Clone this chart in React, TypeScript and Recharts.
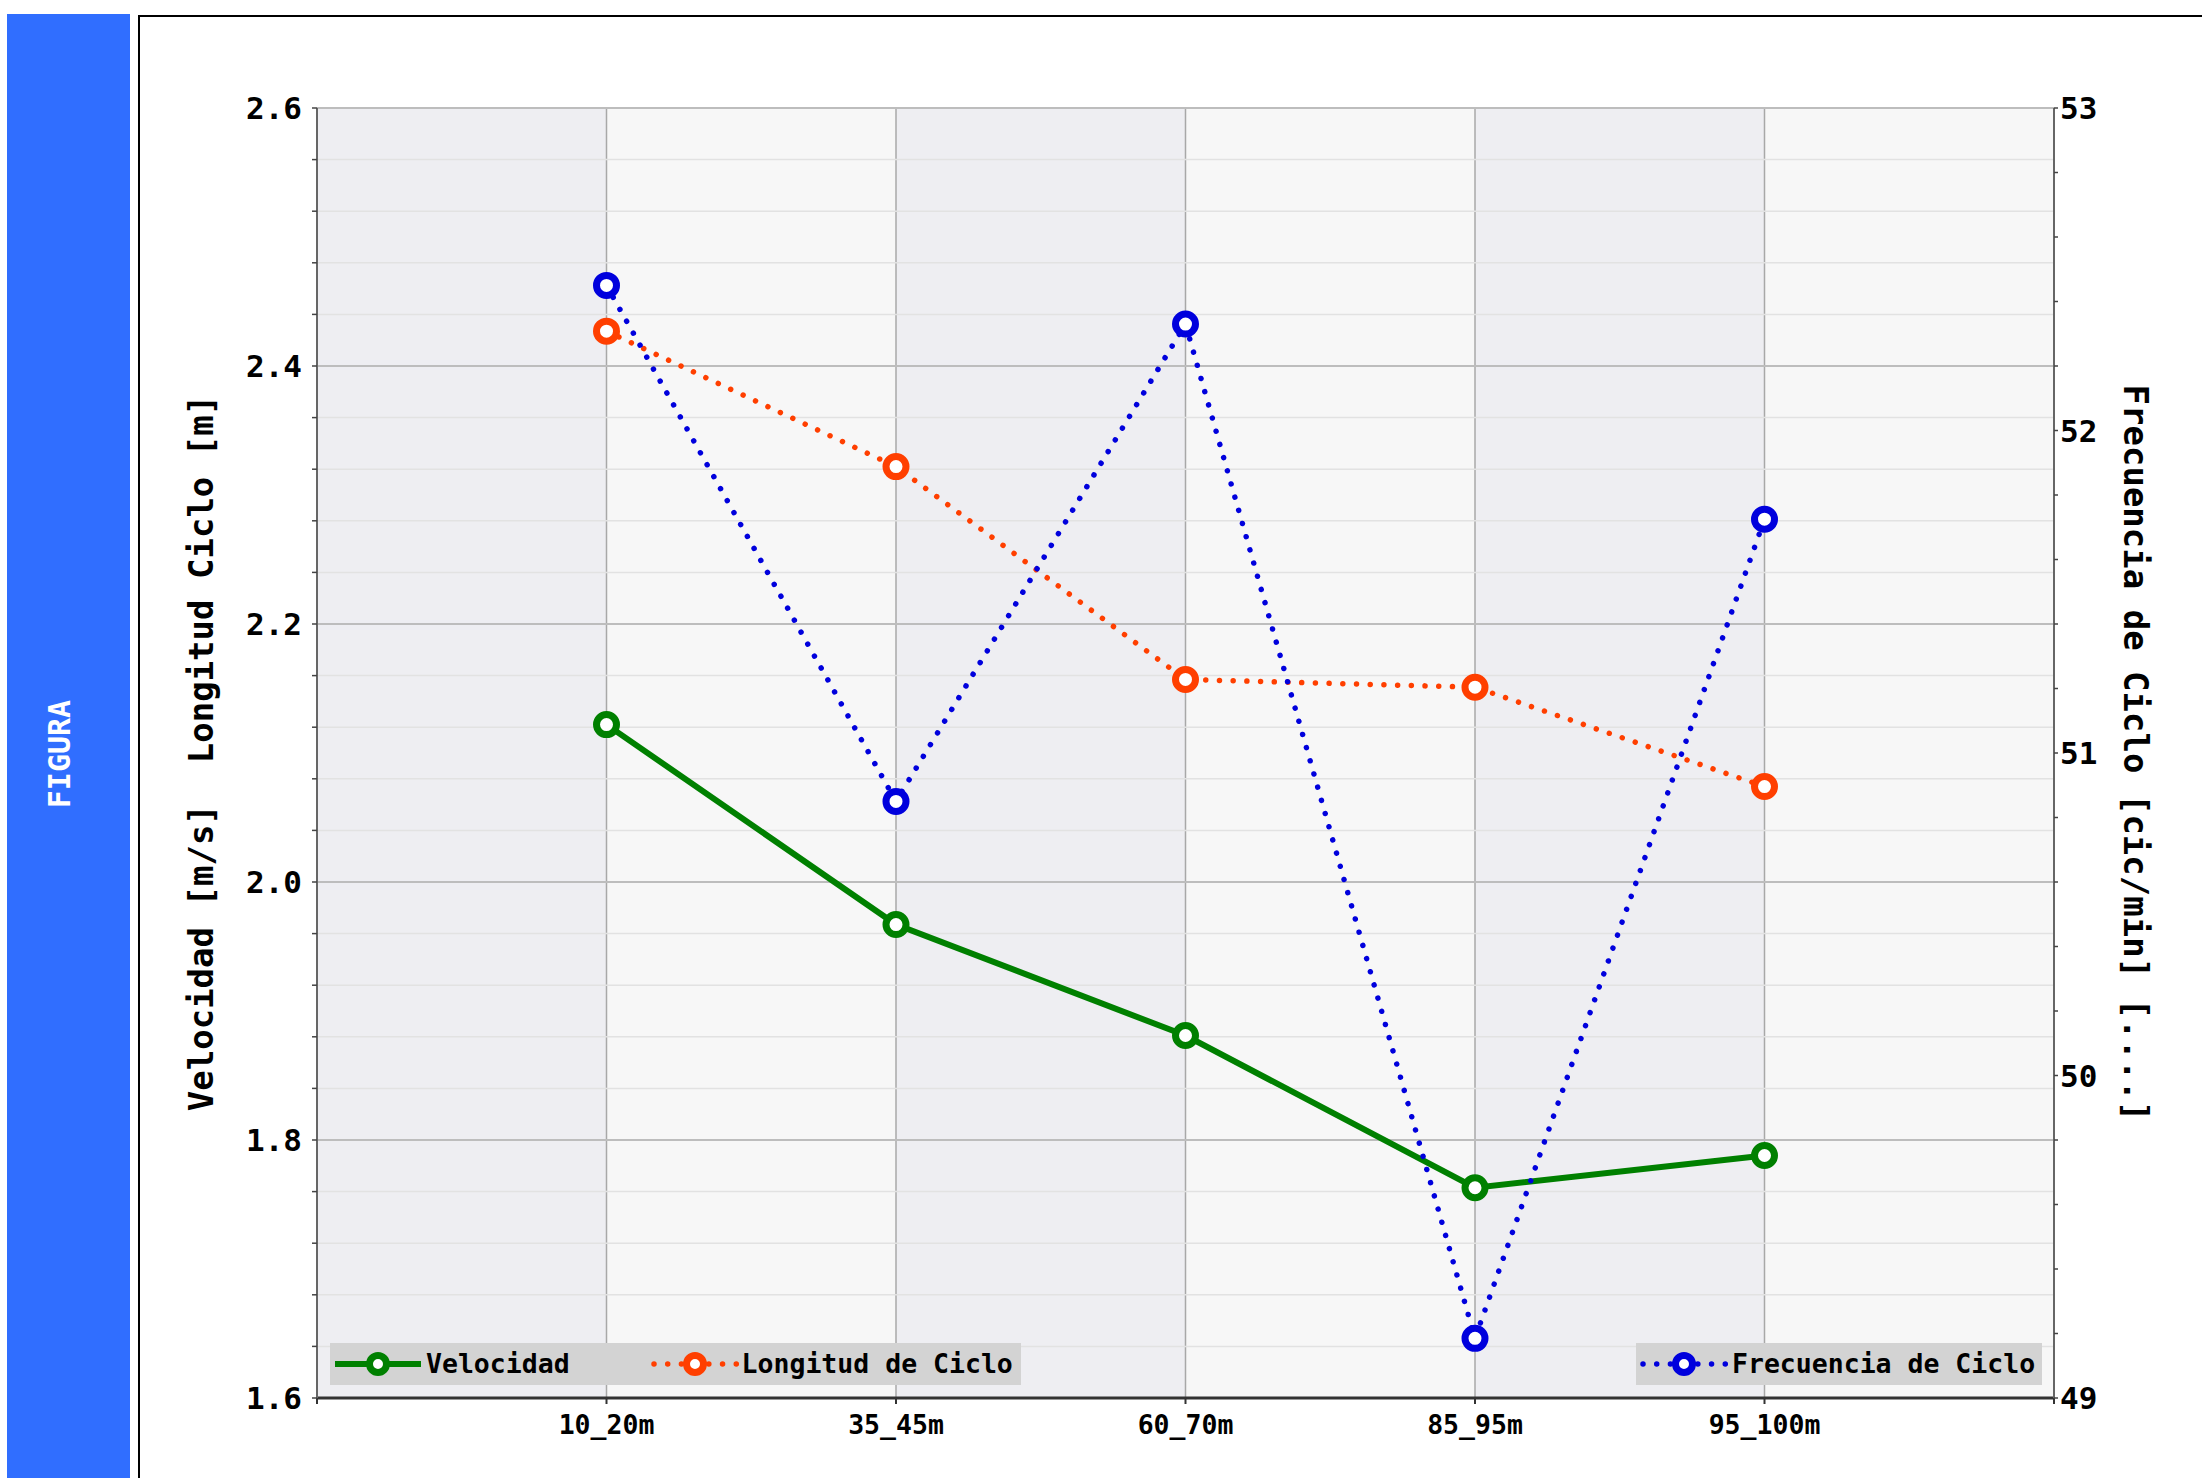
import React from 'react';
import { LineChart, Line, XAxis, YAxis, CartesianGrid, ReferenceLine, Legend } from 'recharts';

// ---------- data ----------
const CATEGORIES = ['10_20m', '35_45m', '60_70m', '85_95m', '95_100m'];
const CATEGORY_POS = [1, 2, 3, 4, 5];
const X_TICKS = [0, 1, 2, 3, 4, 5, 6];
const VELOCIDAD = [2.122, 1.967, 1.881, 1.763, 1.788];
const LONGITUD = [2.427, 2.322, 2.157, 2.151, 2.074];
const FRECUENCIA = [52.45, 50.85, 52.33, 49.185, 51.725];
const SERIES_NAMES = ['Velocidad', 'Longitud de Ciclo', 'Frecuencia de Ciclo'];

const LEFT_MAJOR = [1.6, 1.8, 2.0, 2.2, 2.4, 2.6];
const LEFT_TICKS = [
  1.6, 1.64, 1.68, 1.72, 1.76, 1.8, 1.84, 1.88, 1.92, 1.96, 2.0, 2.04, 2.08,
  2.12, 2.16, 2.2, 2.24, 2.28, 2.32, 2.36, 2.4, 2.44, 2.48, 2.52, 2.56, 2.6,
];
const RIGHT_MAJOR = [49, 50, 51, 52, 53];
const RIGHT_TICKS = [
  49, 49.2, 49.4, 49.6, 49.8, 50, 50.2, 50.4, 50.6, 50.8, 51, 51.2, 51.4,
  51.6, 51.8, 52, 52.2, 52.4, 52.6, 52.8, 53,
];
const LEFT_TITLE = 'Velocidad [m/s]  Longitud Ciclo [m]';
const RIGHT_TITLE = 'Frecuencia de Ciclo [cic/min] [....]';
const SIDE_LABEL = 'FIGURA';

// ---------- style ----------
const FONT = '"DejaVu Sans Mono", monospace';
const GREEN = '#008000';
const RED = '#ff3f00';
const BLUE = '#0000dd';
const DOTS = '0.01 13.7';

const isIn = (arr: number[], v: number) => arr.some((m) => Math.abs(m - v) < 1e-6);

const LeftTitle = (props: any) => {
  const vb = props.viewBox || { x: 0, y: 108, width: 317, height: 1290 };
  const cx = 201;
  const cy = vb.y + vb.height / 2;
  return (
    <text
      x={cx}
      y={cy}
      transform={`rotate(-90 ${cx} ${cy})`}
      textAnchor="middle"
      dominantBaseline="central"
      style={{ whiteSpace: 'pre', fontFamily: FONT, fontWeight: 'bold', fontSize: 34, fill: '#000' }}
    >
      {LEFT_TITLE}
    </text>
  );
};

const RightTitle = (props: any) => {
  const vb = props.viewBox || { x: 2054, y: 108, width: 148, height: 1290 };
  const cx = 2136;
  const cy = vb.y + vb.height / 2;
  return (
    <text
      x={cx}
      y={cy}
      transform={`rotate(90 ${cx} ${cy})`}
      textAnchor="middle"
      dominantBaseline="central"
      style={{ whiteSpace: 'pre', fontFamily: FONT, fontWeight: 'bold', fontSize: 34, fill: '#000' }}
    >
      {RIGHT_TITLE}
    </text>
  );
};

const Sample = ({ color, dotted }: { color: string; dotted: boolean }) => (
  <svg width={90} height={42} style={{ display: 'block', flex: 'none' }}>
    <line
      x1={dotted ? 4 : 0}
      y1={21}
      x2={dotted ? 88 : 86}
      y2={21}
      stroke={color}
      strokeWidth={dotted ? 5.5 : 6}
      strokeLinecap={dotted ? 'round' : 'butt'}
      strokeDasharray={dotted ? DOTS : undefined}
    />
    <circle cx={dotted ? 45 : 43} cy={21} r={8.5} fill="#fff" stroke={color} strokeWidth={7} />
  </svg>
);

const legendText: React.CSSProperties = {
  fontFamily: FONT,
  fontWeight: 'bold',
  fontSize: 26.5,
  color: '#000',
  whiteSpace: 'pre',
  lineHeight: '42px',
};

const LegendBoxes = () => (
  <div style={{ position: 'relative', width: 1712, height: 42 }}>
    <div
      style={{
        position: 'absolute', left: 0, top: 0, width: 691, height: 42, background: '#d3d3d3',
        display: 'flex', alignItems: 'center', paddingLeft: 5, boxSizing: 'border-box',
      }}
    >
      <Sample color={GREEN} dotted={false} />
      <span style={{ ...legendText, marginLeft: 1 }}>{SERIES_NAMES[0]}</span>
      <div style={{ width: 80 }} />
      <Sample color={RED} dotted={true} />
      <span style={{ ...legendText, marginLeft: 2 }}>{SERIES_NAMES[1]}</span>
    </div>
    <div
      style={{
        position: 'absolute', left: 1306, top: 0, width: 406, height: 42, background: '#d3d3d3',
        display: 'flex', alignItems: 'center', paddingLeft: 3, boxSizing: 'border-box',
      }}
    >
      <Sample color={BLUE} dotted={true} />
      <span style={{ ...legendText, marginLeft: 3 }}>{SERIES_NAMES[2]}</span>
    </div>
  </div>
);

export default function App() {
  const data = CATEGORY_POS.map((x, i) => ({
    x,
    vel: VELOCIDAD[i],
    lon: LONGITUD[i],
    fre: FRECUENCIA[i],
  }));
  const tickStyle = { fill: '#000', fontFamily: FONT, fontWeight: 'bold', fontSize: 31 } as any;
  const markerBase = { r: 10, strokeWidth: 7, fill: '#fff', strokeDasharray: 'none' };
  return (
    <div style={{ position: 'fixed', left: 0, top: 0, width: 2202, height: 1478, overflow: 'hidden', background: '#fff' }}>
      <div style={{ position: 'absolute', left: 7, top: 14, width: 123, height: 1470, background: '#306eff' }} />
      <div
        style={{
          position: 'absolute', left: 60, top: 754, transform: 'translate(-50%, -50%) rotate(-90deg)',
          color: '#fff', fontFamily: FONT, fontWeight: 'bold', fontSize: 30, whiteSpace: 'nowrap', lineHeight: 1,
        }}
      >
        {SIDE_LABEL}
      </div>
      <div
        style={{
          position: 'absolute', left: 138, top: 15, width: 2200, height: 1600,
          border: '2px solid #000', boxSizing: 'border-box',
        }}
      />
      <div style={{ position: 'absolute', left: 0, top: 0 }}>
        <LineChart width={2202} height={1478} data={data} margin={{ top: 108, right: 0, bottom: 0, left: 0 }}>
          <CartesianGrid
            horizontal={false}
            vertical={true}
            stroke="#a8a8a8"
            strokeWidth={1.5}
            verticalFill={['#eeeef2', '#f7f7f7']}
            fillOpacity={1}
          />
          <CartesianGrid horizontal={true} vertical={false} stroke="#e2e2e2" strokeWidth={1.5} />
          {LEFT_MAJOR.map((v) => (
            <ReferenceLine key={v} y={v} stroke="#bdbdbd" strokeWidth={2} ifOverflow="extendDomain" />
          ))}
          <XAxis
            dataKey="x"
            type="number"
            domain={[0, 6]}
            ticks={X_TICKS}
            interval={0}
            height={80}
            tickFormatter={(v: number) => (v >= 1 && v <= 5 ? CATEGORIES[v - 1] : '')}
            tick={{ fill: '#000', fontFamily: FONT, fontWeight: 'bold', fontSize: 26.5 } as any}
            tickSize={6}
            tickMargin={11}
            axisLine={{ stroke: '#333', strokeWidth: 3 }}
            tickLine={{ stroke: '#333', strokeWidth: 2 }}
          />
          <YAxis
            yAxisId={0}
            orientation="left"
            width={317}
            domain={[1.6, 2.6]}
            ticks={LEFT_TICKS}
            interval={0}
            tickFormatter={(v: number) => (isIn(LEFT_MAJOR, v) ? v.toFixed(1) : '')}
            tick={tickStyle}
            tickSize={5}
            tickMargin={10}
            axisLine={{ stroke: '#666', strokeWidth: 2 }}
            tickLine={{ stroke: '#444', strokeWidth: 1.5 }}
            label={<LeftTitle />}
          />
          <YAxis
            yAxisId="right"
            orientation="right"
            width={148}
            domain={[49, 53]}
            ticks={RIGHT_TICKS}
            interval={0}
            tickFormatter={(v: number) => (isIn(RIGHT_MAJOR, v) ? String(Math.round(v)) : '')}
            tick={tickStyle}
            tickSize={4}
            tickMargin={2}
            axisLine={{ stroke: '#666', strokeWidth: 2 }}
            tickLine={{ stroke: '#444', strokeWidth: 1.5 }}
            label={<RightTitle />}
          />
          <Legend
            verticalAlign="middle"
            align="center"
            layout="horizontal"
            content={() => <LegendBoxes />}
            wrapperStyle={{ position: 'absolute', left: 330, top: 1343, width: 1712, height: 42 }}
          />
          <Line
            yAxisId={0}
            type="linear"
            dataKey="vel"
            name={SERIES_NAMES[0]}
            stroke={GREEN}
            strokeWidth={6}
            dot={{ ...markerBase, stroke: GREEN }}
            activeDot={false}
            isAnimationActive={false}
          />
          <Line
            yAxisId={0}
            type="linear"
            dataKey="lon"
            name={SERIES_NAMES[1]}
            stroke={RED}
            strokeWidth={5.5}
            strokeLinecap="round"
            strokeDasharray={DOTS}
            dot={{ ...markerBase, stroke: RED }}
            activeDot={false}
            isAnimationActive={false}
          />
          <Line
            yAxisId="right"
            type="linear"
            dataKey="fre"
            name={SERIES_NAMES[2]}
            stroke={BLUE}
            strokeWidth={5.5}
            strokeLinecap="round"
            strokeDasharray={DOTS}
            dot={{ ...markerBase, stroke: BLUE }}
            activeDot={false}
            isAnimationActive={false}
          />
        </LineChart>
      </div>
    </div>
  );
}
